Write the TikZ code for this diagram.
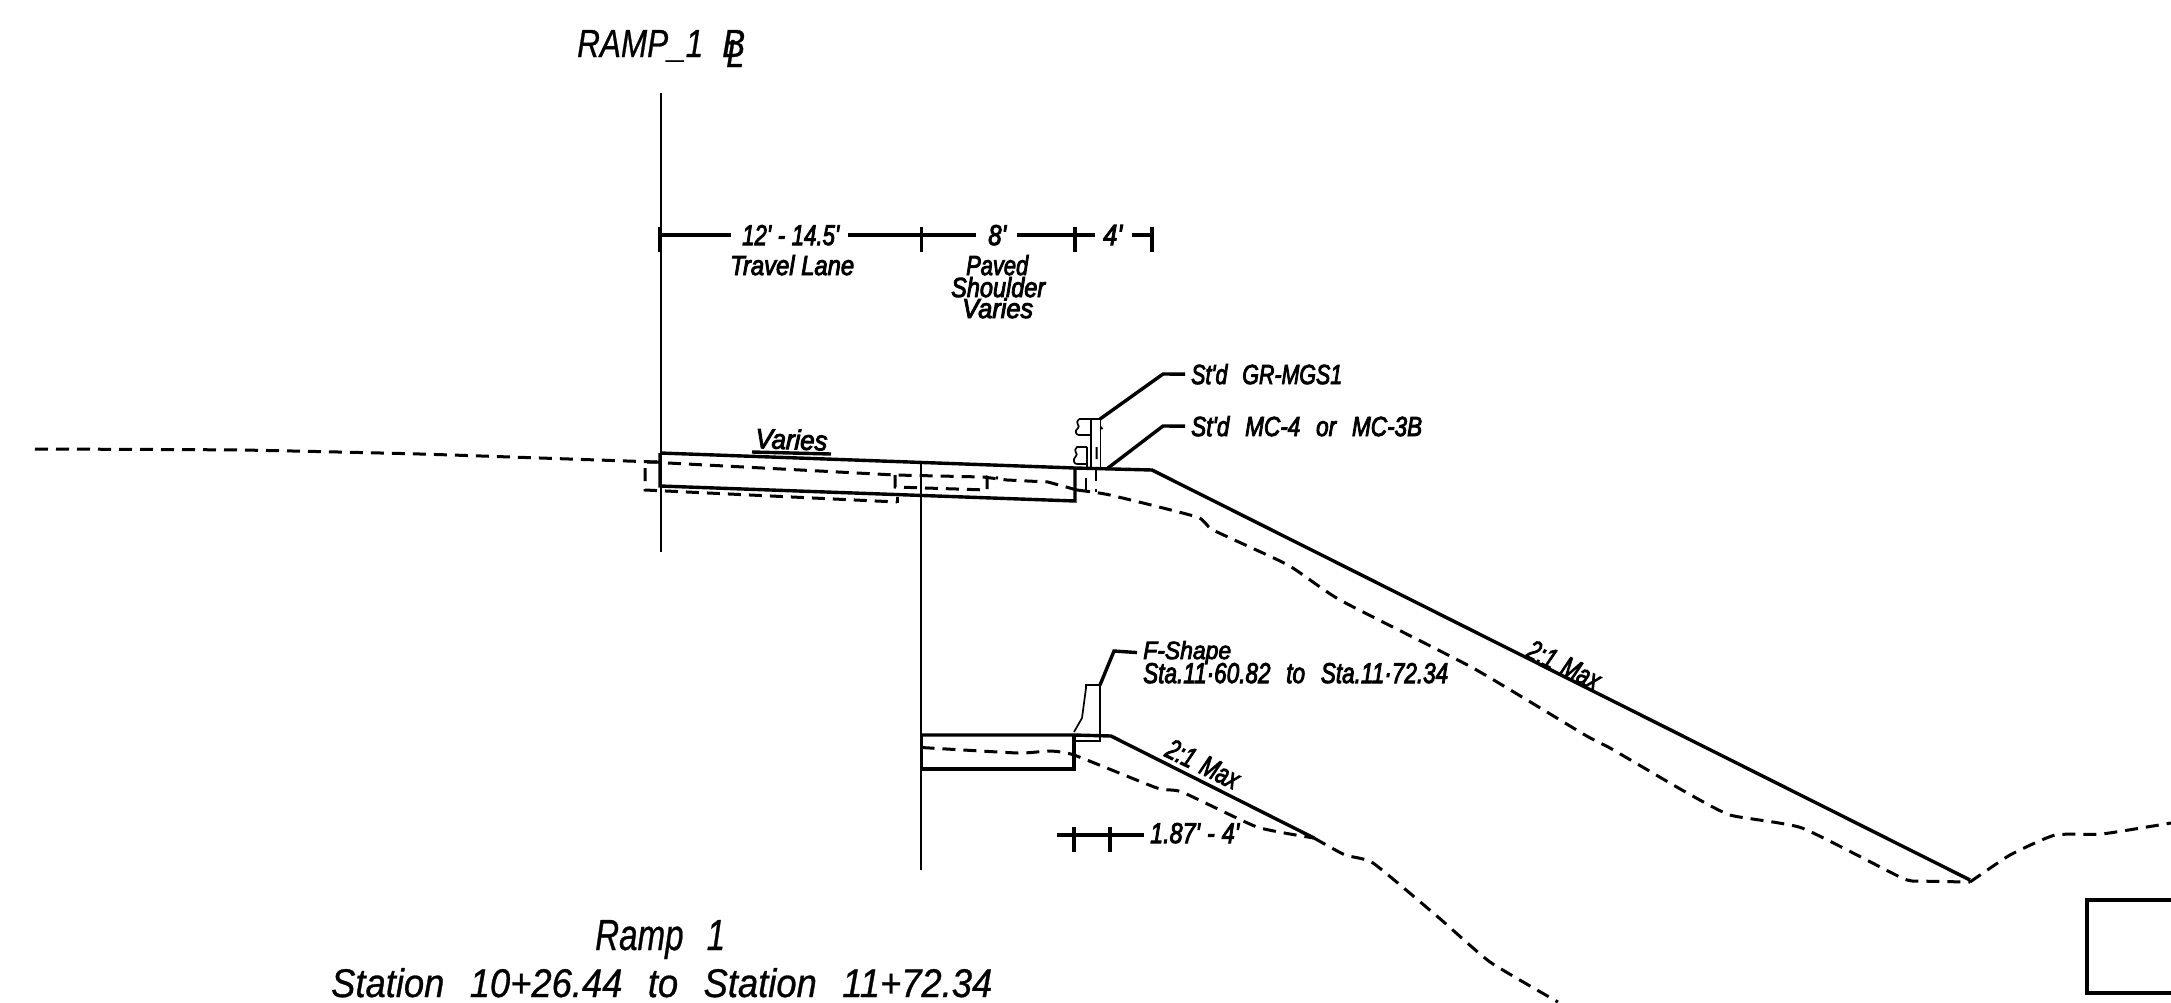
\documentclass[tikz,border=0pt]{standalone}
\usepackage{fontspec}
\setmainfont{Liberation Sans}
\newfontfamily\cadbig{Liberation Sans}[FakeBold=0.8]
\newfontfamily\cadsmall{Liberation Sans}[FakeBold=3.5]
\newcommand{\bigt}[3]{\resizebox{#1pt}{#2pt}{\cadbig\itshape #3}}
\newcommand{\smt}[3]{\resizebox{#1pt}{#2pt}{\cadsmall\itshape #3}}
\newcommand{\wsp}{\hspace{0.7em}}
\begin{document}
\begin{tikzpicture}[x=1pt,y=-1pt,
  heavy/.style={line width=3.4pt,line join=miter},
  medium/.style={line width=2pt},
  thin line/.style={line width=1.7pt},
  ground/.style={line width=3pt,dash pattern=on 13pt off 8pt},
  lab/.style={inner sep=0pt,anchor=base west}]
\useasboundingbox (0,0) rectangle (2171,1002);
% centre lines
\draw[medium] (661,93) -- (661,552);
\draw[medium] (921,463) -- (921,870);
% top dimension line
\node[lab] (dima) at (742,245) {\smt{97}{20}{12'\hspace{0.3em}-\hspace{0.3em}14.5'}};
\node[lab] (dimb) at (988,245) {\smt{18}{20}{8'}};
\node[lab] (dimc) at (1103,245) {\smt{19}{20}{4'}};
\node[lab] (lane) at (730,275) {\smt{124}{20}{Travel Lane}};
\node[lab] (sh1) at (966,275) {\smt{62}{20}{Paved}};
\node[lab] (sh2) at (951,297) {\smt{94}{20}{Shoulder}};
\node[lab] (sh3) at (962,318) {\smt{71}{20}{Varies}};
\coordinate (t0) at (660,235); \coordinate (t1) at (921.5,235);
\coordinate (t2) at (1075,235); \coordinate (t3) at (1152,235);
\draw[heavy] (t0) -- (731,235);
\draw[heavy] (848,235) -- (t1) -- (976,235);
\draw[heavy] (1017,235) -- (t2) -- (1095,235);
\draw[heavy] (1132,235) -- (t3);
\foreach \c in {t0,t1,t2,t3} \draw[heavy] ([yshift=8pt]\c) -- ([yshift=-17pt]\c);
% main section
\draw[heavy] (660,453) -- (1075,468) -- (1152,470) -- (1970,880);
\draw[heavy] (660,453) -- (660,486) -- (1075,501) -- (1075,468);
% lower section
\draw[heavy] (921.5,735) -- (1074,735) -- (1111,736) -- (1314,838);
\draw[heavy] (921.5,735) -- (921.5,769) -- (1074,769) -- (1074,735);
% existing ground
\draw[ground] plot[smooth,tension=0.3] coordinates {(35,449) (240,450) (420,454) (627,461) (658,462)};
\draw[ground] (668,463) -- (895,475) -- (983,477) -- (1007,480) -- (1048,482) -- (1077,490);
\draw[ground] plot[smooth,tension=0.3] coordinates {(1077,490) (1110,495) (1197,517) (1213,530) (1288,565) (1340,600) (1473,668) (1585,735) (1610,748) (1682,790) (1730,815) (1802,828) (1902,878) (1920,881) (1970,882)};
\draw[ground] plot[smooth,tension=0.3] coordinates {(1970,882) (2010,855) (2055,835) (2102,834) (2171,823)};
\draw[ground] (660,462) -- (645,462) -- (645,490) -- (897,502);
\draw[line width=3pt] (897,497) -- (897,503);
\draw[ground] (895,475) -- (895,487) -- (987,490) -- (987,477) -- (998,478);
\draw[ground] plot[smooth,tension=0.3] coordinates {(921.5,747.5) (1018,753) (1050,751) (1074,755) (1157,788) (1182,792) (1257,827) (1314,838)};
\draw[ground] plot[smooth,tension=0.3] coordinates {(1314,838) (1345,855) (1373,863) (1438,917) (1490,962) (1558,1002)};
% guardrail
\draw[thin line] (1079,419) -- (1100.5,419) -- (1100.5,467) (1091,419) -- (1091,467);
\draw[thin line] (1079,419) .. controls (1074,423) and (1081,426) .. (1078,428) .. controls (1074,431) and (1076,435) .. (1079,435) -- (1091,435);
\draw[thin line] (1087,447) -- (1077,447) .. controls (1072,451) and (1079,454) .. (1076,456) .. controls (1072,460) and (1074,464) .. (1077,464) -- (1087,464);
\draw[thin line] (1087,447) -- (1087,467);
\draw[line width=2pt] (1096.5,447) -- (1096.5,459) (1100.5,427) -- (1102.5,429);
\draw[thin line] (1086,478) -- (1086,492) (1096,470) -- (1096,481) (1096,489) -- (1096,492);
% F-shape barrier
\draw[thin line] (1074,732) -- (1082,718) -- (1086,688) -- (1086,685) -- (1100,685) -- (1100,741) -- (1074,741);
% labels with leaders
\node[lab] (gr) at (1191,384) {\smt{151}{20}{St'd\wsp GR-MGS1}};
\node[lab] (mc) at (1191,436) {\smt{231}{20}{St'd\wsp MC-4\wsp or\wsp MC-3B}};
\node[lab] (fs) at (1143,659) {\smt{88}{18}{F-Shape}};
\node[lab] (sta) at (1143,683) {\smt{305}{20}{Sta.11·60.82\wsp to\wsp Sta.11·72.34}};
\coordinate (grpost) at (1100,419); \coordinate (mcbase) at (1108,468); \coordinate (fspost) at (1100,685);
\draw[heavy] (grpost) -- (1163,374) -- ([xshift=-6pt]gr.west);
\draw[heavy] (mcbase) -- (1163,426) -- ([xshift=-6pt]mc.west);
\draw[heavy] (fspost) -- (1114,651) -- ([xshift=-6pt]fs.west);
% slopes
\node[inner sep=0pt,rotate=-26] (sa) at (1564,665) {\smt{78}{20}{2:1\hspace{0.4em}Max}};
\node[inner sep=0pt,rotate=-26] (sb) at (1203,764) {\smt{78}{20}{2:1\hspace{0.4em}Max}};
% lower dimension
\node[lab] (dimd) at (1150,843) {\smt{89}{20}{1.87'\hspace{0.3em}-\hspace{0.3em}4'}};
\coordinate (d0) at (1057,835); \coordinate (d1) at (1074,835); \coordinate (d2) at (1110,835);
\draw[heavy] (d0) -- (1144,835);
\draw[heavy] (d1 |- 0,827) -- (d1 |- 0,852) (d2 |- 0,827) -- (d2 |- 0,852);
% varies
\node[lab,rotate=-2] (var) at (755,448) {\smt{72}{20}{Varies}};
\coordinate (u0) at (752,452); \coordinate (u1) at (831,454);
\draw[heavy] (u0) -- (u1);
% titles
\node[lab] (ramp) at (577,57) {\bigt{126}{27}{RAMP\_1}};
\node[lab] (rb) at (722,57) {\bigt{23}{27}{B}};
\node[lab] (rl) at (726,67) {\bigt{18}{27}{L}};
\node[lab] (rname) at (595,950) {\bigt{130}{30}{Ramp\wsp 1}};
\node[lab] (rsta) at (331,997) {\bigt{661}{29}{Station\wsp 10+26.44\wsp to\wsp Station\wsp 11+72.34}};
% box at right edge
\draw[heavy] (2175,900) -- (2087,900) -- (2087,993) -- (2175,993);
\end{tikzpicture}
\end{document}
